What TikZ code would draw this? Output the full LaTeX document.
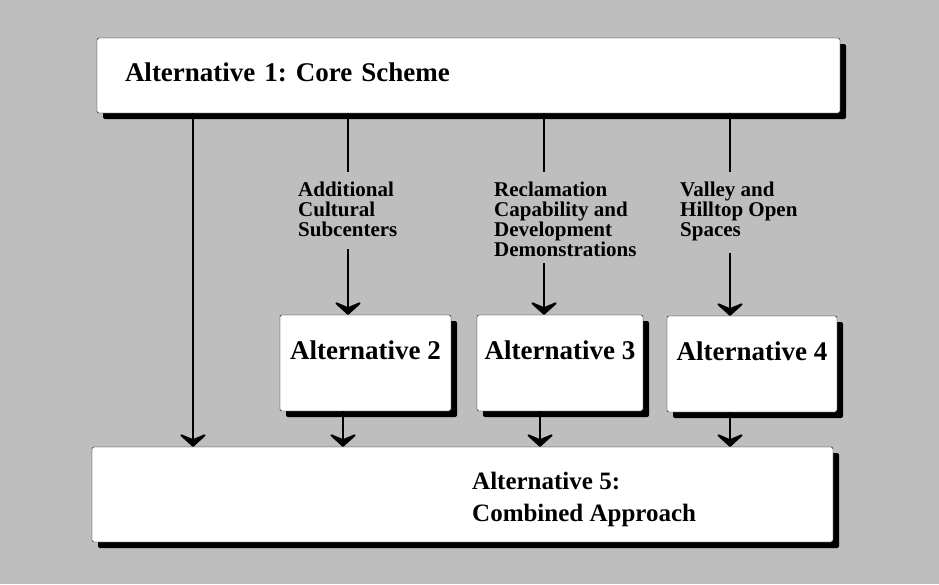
\documentclass[tikz,border=0pt]{standalone}
\usepackage{fontspec}
\setmainfont{Liberation Serif}
\usepackage{xcolor}
\usetikzlibrary{arrows.meta,shadows}
\definecolor{paper}{RGB}{190,190,190}
\frenchspacing

\tikzset{
  altbox/.style={draw=black, fill=white, rounded corners=2pt,
    general shadow={fill=black, shadow xshift=6pt, shadow yshift=-6pt}},
  subbox/.style={altbox, minimum width=#1, minimum height=96pt,
    font=\bfseries\fontsize{27}{30}\selectfont, text height=20pt, text depth=28pt},
  note/.style={anchor=north west, align=left, inner sep=0pt,
    font=\bfseries\fontsize{21}{20}\selectfont},
  stem/.style={line width=2pt},
  feed/.style={line width=2pt, -{Stealth[length=15pt, width=33pt, inset=7pt, round]}}
}

\begin{document}
\begin{tikzpicture}[x=1pt, y=1pt]
  \fill[paper] (0,0) rectangle (939,-584);
  \useasboundingbox (0,0) rectangle (939,-584);

  % boxes
  \node[altbox, minimum width=743pt, minimum height=75pt, text width=687pt, inner xsep=28pt,
        align=left, font=\bfseries\fontsize{27}{30}\selectfont, text height=20pt, text depth=8pt]
        (alt1) at (468.5,-75.5) {Alternative 1: Core Scheme};
  \node[subbox=171pt] (alt2) at (365.5,-363) {Alternative 2};
  \node[subbox=166pt] (alt3) at (560,-363) {Alternative 3};
  \node[subbox=170pt] (alt4) at (752,-364) {Alternative 4};
  \node[altbox, minimum width=741pt, minimum height=95pt] (alt5) at (462.5,-494.5) {};
  \node[anchor=west, align=left, inner sep=0pt, font=\bfseries\fontsize{25}{32}\selectfont]
        (alt5txt) at (472,-499) {Alternative 5:\\Combined Approach};

  % stems
  \coordinate (k1) at (193,-120);
  \coordinate (k2) at (348,-172);
  \coordinate (k3) at (544,-172);
  \coordinate (k4) at (730,-172);

  \node[note] (cult) at (298,-182) {Additional\\Cultural\\Subcenters};
  \node[note] (recl) at (494,-182) {Reclamation\\Capability and\\Development\\Demonstrations};
  \node[note] (open) at (680,-182) {Valley and\\Hilltop Open\\Spaces};

  \draw[stem] (alt1.south -| k2) -- (k2);
  \draw[stem] (alt1.south -| k3) -- (k3);
  \draw[stem] (alt1.south -| k4) -- (k4);

  \draw[feed] ([yshift=-12pt]cult.south -| k2) -- (alt2.north -| k2);
  \draw[feed] ([yshift=-6pt]recl.south -| k3) -- (alt3.north -| k3);
  \draw[feed] ([yshift=-12pt]open.south -| k4) -- (alt4.north -| k4);

  % into alternative 5
  \draw[feed, line width=2.5pt] (alt1.south -| k1) -- (alt5.north -| k1);
  \draw[feed] ([xshift=-5pt]alt2.south -| k2) -- ([xshift=-5pt]alt5.north -| k2);
  \draw[feed] ([xshift=-4pt]alt3.south -| k3) -- ([xshift=-4pt]alt5.north -| k3);
  \draw[feed] (alt4.south -| k4) -- (alt5.north -| k4);
\end{tikzpicture}
\end{document}
